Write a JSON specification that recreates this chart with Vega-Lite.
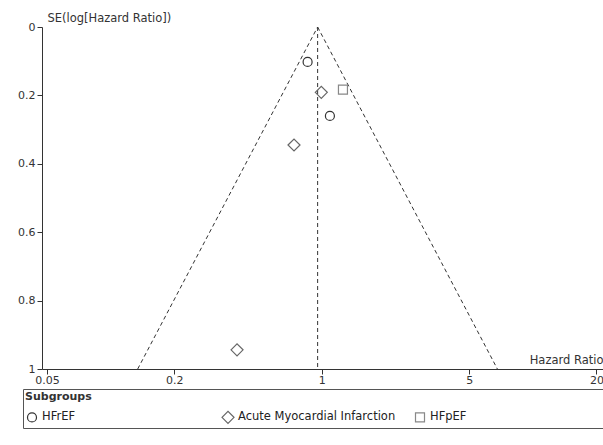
{
  "$schema": "https://vega.github.io/schema/vega-lite/v6.json",
  "width": 561,
  "height": 342,
  "autosize": {"type": "none"},
  "padding": {"left": 42, "top": 27, "right": 0, "bottom": 76},
  "background": "white",
  "config": {
    "view": {"stroke": null},
    "font": "DejaVu Sans",
    "axis": {"grid": false, "domainColor": "#333333", "tickColor": "#333333", "labelColor": "#333333", "titleColor": "#333333", "labelFont": "DejaVu Sans", "titleFont": "DejaVu Sans", "labelFontSize": 11, "titleFontSize": 11.5, "titleFontWeight": "normal", "tickSize": 5, "domainWidth": 1, "tickWidth": 1},
    "legend": {"orient": "none", "legendX": -19, "legendY": 362, "direction": "horizontal", "columns": 3, "gridAlign": "each", "columnPadding": 17, "padding": 2, "strokeColor": "#555555", "titleFont": "DejaVu Sans", "titleFontSize": 11, "titleFontWeight": "bold", "titleColor": "#333333", "titlePadding": 8, "labelFont": "DejaVu Sans", "labelFontSize": 11.5, "labelColor": "#222222", "labelOffset": 3, "symbolStrokeWidth": 1.2, "labelLimit": 600}
  },
  "datasets": {
    "funnel": [
      {"line": "left", "hr": 0.956, "se": 0},
      {"line": "left", "hr": 0.1344, "se": 1},
      {"line": "right", "hr": 0.956, "se": 0},
      {"line": "right", "hr": 6.787, "se": 1},
      {"line": "mid", "hr": 0.956, "se": 0},
      {"line": "mid", "hr": 0.956, "se": 1}
    ],
    "studies": [
      {"subgroup": "HFrEF", "hr": 0.857, "se": 0.102},
      {"subgroup": "HFrEF", "hr": 1.093, "se": 0.26},
      {"subgroup": "Acute Myocardial Infarction", "hr": 0.995, "se": 0.191},
      {"subgroup": "Acute Myocardial Infarction", "hr": 0.739, "se": 0.345},
      {"subgroup": "Acute Myocardial Infarction", "hr": 0.397, "se": 0.944},
      {"subgroup": "HFpEF", "hr": 1.26, "se": 0.183}
    ]
  },
  "layer": [
    {
      "data": {"name": "funnel"},
      "mark": {"type": "line", "color": "#333333", "strokeDash": [4, 3], "strokeWidth": 1},
      "encoding": {
        "x": {"field": "hr", "type": "quantitative",
          "scale": {"type": "log", "domain": [0.04734, 21.47], "nice": false},
          "axis": {"values": [0.05, 0.2, 1, 5, 20], "format": "~g", "labelPadding": 0, "labelFlush": false, "title": "Hazard Ratio", "titleAnchor": "end", "titleAlign": "right", "titleX": 561, "titleY": -6, "titleBaseline": "alphabetic"}},
        "y": {"field": "se", "type": "quantitative",
          "scale": {"domain": [0, 1], "reverse": true, "nice": false, "zero": false},
          "axis": {"values": [0, 0.2, 0.4, 0.6, 0.8, 1], "format": "~g", "labelPadding": 2, "labelFlush": false, "title": "SE(log[Hazard Ratio])", "titleAngle": 0, "titleAlign": "left", "titleX": 5, "titleY": -6, "titleBaseline": "alphabetic"}},
        "detail": {"field": "line", "type": "nominal"}
      }
    },
    {
      "data": {"name": "studies"},
      "mark": {"type": "point", "filled": false, "strokeWidth": 1.2, "opacity": 1},
      "encoding": {
        "x": {"field": "hr", "type": "quantitative"},
        "y": {"field": "se", "type": "quantitative"},
        "shape": {"field": "subgroup", "type": "nominal",
          "scale": {"domain": ["HFrEF", "Acute Myocardial Infarction", "HFpEF"], "range": ["circle", "diamond", "square"]},
          "legend": {"title": "Subgroups", "labelExpr": "datum.label == 'HFrEF' ? pad(datum.label, 20, '\u2800') : datum.label == 'HFpEF' ? pad(datum.label, 21, '\u2800') : datum.label"}},
        "color": {"field": "subgroup", "type": "nominal",
          "scale": {"domain": ["HFrEF", "Acute Myocardial Infarction", "HFpEF"], "range": ["#333333", "#666666", "#888888"]},
          "legend": {"title": "Subgroups"}},
        "size": {"field": "subgroup", "type": "nominal",
          "scale": {"type": "ordinal", "domain": ["HFrEF", "Acute Myocardial Infarction", "HFpEF"], "range": [81, 144, 81]},
          "legend": {"title": "Subgroups"}}
      }
    }
  ]
}
